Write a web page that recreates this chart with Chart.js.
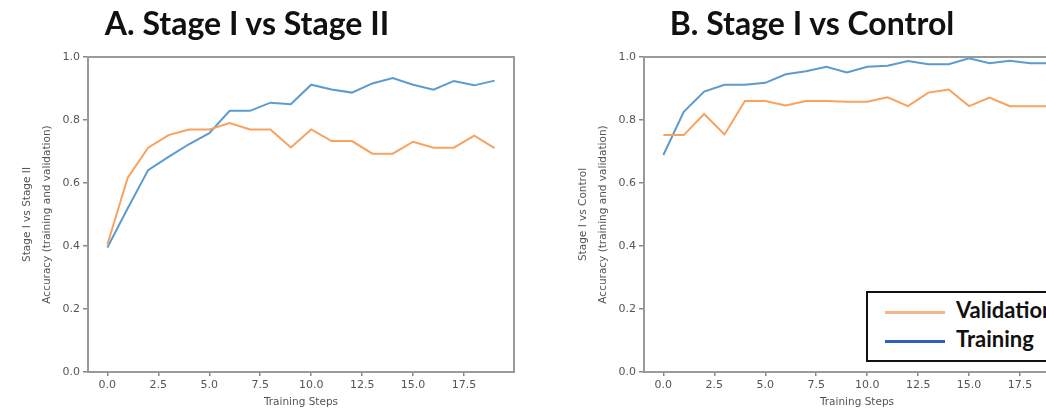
<!DOCTYPE html>
<html lang="en">
<head>
  <meta charset="UTF-8">
  <title>Stage I accuracy curves</title>
  <script src="https://cdn.jsdelivr.net/npm/chart.js"></script>
  <style>
html, body {
  margin: 0;
  padding: 0;
  width: 1046px;
  height: 410px;
  overflow: hidden;
  background: #fff;
}

.panel {
  position: absolute;
  top: 0;
  width: 530px;
  height: 410px;
}

.panel-title {
  position: absolute;
  top: 7px;
  width: 400px;
  margin-left: -200px; /* centre on left */
  text-align: center;
  font-family: Lato, sans-serif;
  font-weight: 700;
  font-size: 32px;
  line-height: 1;
  color: #111;
  white-space: nowrap;
}

.legend-box {
  position: absolute;
  left: 866px;
  top: 291px;
  width: 220px;
  height: 67px;
  border: 2px solid #111;
  background: #fff;
  font-family: Lato, sans-serif;
  font-weight: 700;
  font-size: 22px;
  color: #111;
}

.legend-row {
  position: absolute;
  left: 17px;
  height: 24px;
  line-height: 24px;
  white-space: nowrap;
}

.legend-row span {
  display: inline-block;
  width: 60px;
  height: 3px;
  vertical-align: middle;
  margin-right: 11px;
}
  </style>
</head>
<body>
  <div class="panel" style="left:0"><canvas id="chartA" width="530" height="410"></canvas></div>
  <div class="panel" style="left:556px"><canvas id="chartB" width="530" height="410"></canvas></div>
  <div class="panel-title" style="left:247px">A. Stage I vs Stage II</div>
  <div class="panel-title" style="left:812px">B. Stage I vs Control</div>
  <div class="legend-box" id="legend"></div>

  <script>
    // training steps on the x axis
    var steps = [0, 1, 2, 3, 4, 5, 6, 7, 8, 9, 10, 11, 12, 13, 14, 15, 16, 17, 18, 19];
    var xTicks = [0, 2.5, 5, 7.5, 10, 12.5, 15, 17.5];
    var yTicks = [0, 0.2, 0.4, 0.6, 0.8, 1.0];

    // A. Stage I vs Stage II
    var stage2Validation = [0.405, 0.617, 0.712, 0.752, 0.770, 0.770, 0.790, 0.770, 0.770, 0.713,
                            0.770, 0.733, 0.733, 0.693, 0.693, 0.731, 0.712, 0.712, 0.750, 0.711];
    var stage2Training   = [0.395, 0.520, 0.641, 0.683, 0.723, 0.758, 0.829, 0.829, 0.855, 0.850,
                            0.912, 0.897, 0.887, 0.916, 0.933, 0.912, 0.896, 0.924, 0.910, 0.925];

    // B. Stage I vs Control
    var controlValidation = [0.752, 0.752, 0.819, 0.754, 0.860, 0.860, 0.846, 0.860, 0.860, 0.858,
                             0.858, 0.872, 0.844, 0.887, 0.897, 0.844, 0.871, 0.844, 0.844, 0.844];
    var controlTraining   = [0.689, 0.826, 0.890, 0.912, 0.912, 0.918, 0.945, 0.955, 0.969, 0.951,
                             0.969, 0.972, 0.987, 0.977, 0.977, 0.996, 0.980, 0.988, 0.980, 0.980];

    var seriesNames = ['Validation', 'Training'];
    var lineColors = ['#f9a25e', '#5b9bd0'];
    var legendColors = ['#f6b48a', '#2f5fbf'];

    var tickFont = { family: 'DejaVu Sans', size: 11 };

    // draws the four spines around the plot area
    var frame = {
      id: 'frame',
      afterDraw: function(chart) {
        var a = chart.chartArea;
        var c = chart.ctx;
        c.save();
        c.strokeStyle = '#9a9a9a';
        c.lineWidth = 2;
        c.strokeRect(a.left, a.top, a.right - a.left, a.bottom - a.top);
        c.restore();
      }
    };

    function makeChart(id, yTitle, validation, training) {
      var ctx = document.getElementById(id).getContext('2d');
      return new Chart(ctx, {
        type: 'line',
        data: {
          labels: steps,
          datasets: [
            { label: seriesNames[0], data: validation, borderColor: lineColors[0], borderWidth: 2, pointRadius: 0, tension: 0, fill: false },
            { label: seriesNames[1], data: training, borderColor: lineColors[1], borderWidth: 2, pointRadius: 0, tension: 0, fill: false }
          ]
        },
        options: {
          responsive: false,
          animation: false,
          layout: { padding: { top: 57, right: 16, bottom: 0, left: 0 } },
          plugins: {
            legend: { display: false },
            tooltip: { enabled: false }
          },
          scales: {
            x: {
              type: 'linear',
              min: -0.95,
              max: 19.95,
              afterBuildTicks: function(scale) {
                scale.ticks = xTicks.map(function(v) { return { value: v }; });
              },
              afterFit: function(scale) { scale.height = 38; },
              border: { display: false },
              grid: { drawOnChartArea: false, drawTicks: true, tickLength: 4, color: '#888', lineWidth: 1.5 },
              ticks: {
                font: tickFont,
                color: '#555',
                padding: 3,
                maxRotation: 0,
                autoSkip: false,
                callback: function(v) { return v.toFixed(1); }
              },
              title: {
                display: true,
                text: 'Training Steps',
                font: { family: 'DejaVu Sans', size: 10.5 },
                color: '#555',
                padding: { top: 0, bottom: 1 }
              }
            },
            y: {
              min: 0,
              max: 1,
              afterBuildTicks: function(scale) {
                scale.ticks = yTicks.map(function(v) { return { value: v }; });
              },
              afterFit: function(scale) { scale.width = 88; },
              border: { display: false },
              grid: { drawOnChartArea: false, drawTicks: true, tickLength: 5, color: '#888', lineWidth: 1.5 },
              ticks: {
                font: tickFont,
                color: '#555',
                padding: 3,
                callback: function(v) { return v.toFixed(1); }
              },
              title: {
                display: true,
                text: yTitle,
                font: { family: 'DejaVu Sans', size: 10.5, lineHeight: 1.95 },
                color: '#555',
                padding: { top: 17, bottom: 0 }
              }
            }
          }
        },
        plugins: [frame]
      });
    }

    makeChart('chartA', ['Stage I vs Stage II', 'Accuracy (training and validation)'], stage2Validation, stage2Training);
    makeChart('chartB', ['Stage I vs Control', 'Accuracy (training and validation)'], controlValidation, controlTraining);

    // hand-made legend box, built from the series names
    var legend = document.getElementById('legend');
    seriesNames.forEach(function(name, i) {
      var row = document.createElement('div');
      row.className = 'legend-row';
      row.style.top = (5 + i * 29) + 'px';
      row.innerHTML = '<span style="background:' + legendColors[i] + '"></span>' + name;
      legend.appendChild(row);
    });
  </script>
</body>
</html>
